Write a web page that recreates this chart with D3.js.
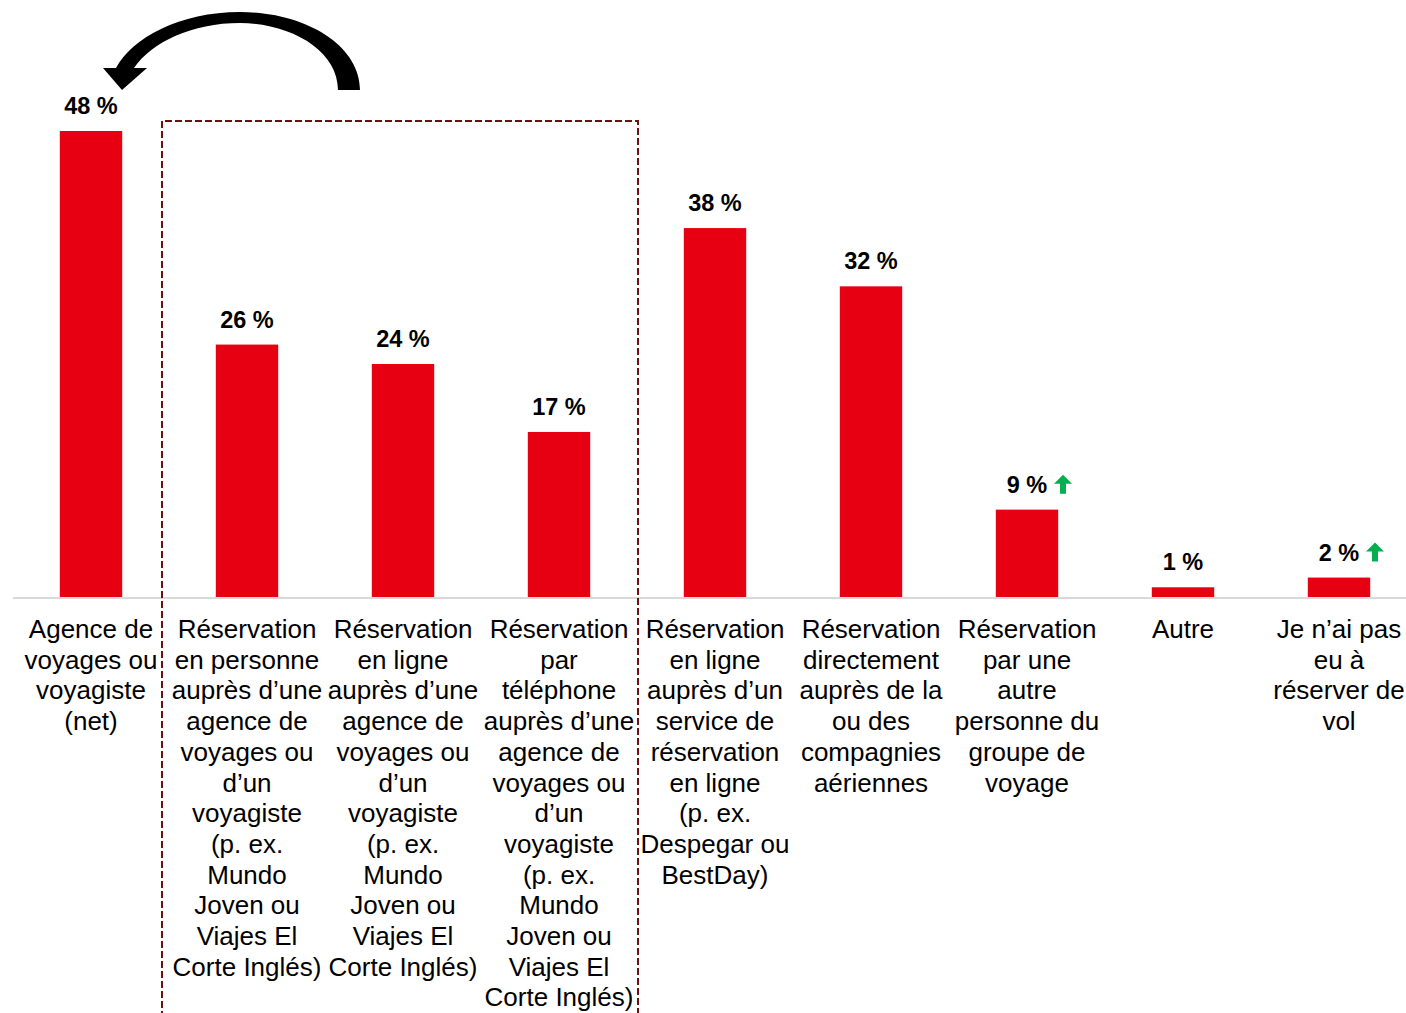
<!DOCTYPE html>
<html>
<head>
<meta charset="utf-8">
<script src="https://cdn.jsdelivr.net/npm/d3@7"></script>
<style>
  body { margin: 0; background: #fff; }
  svg { display: block; font-family: Arial, "Liberation Sans", sans-serif; }
</style>
</head>
<body>
<svg></svg>
<script>
// Données du graphique
const categories = [
    "Agence de\nvoyages ou\nvoyagiste\n(net)",
    "Réservation\nen personne\nauprès d’une\nagence de\nvoyages ou\nd’un\nvoyagiste\n(p. ex.\nMundo\nJoven ou\nViajes El\nCorte Inglés)",
    "Réservation\nen ligne\nauprès d’une\nagence de\nvoyages ou\nd’un\nvoyagiste\n(p. ex.\nMundo\nJoven ou\nViajes El\nCorte Inglés)",
    "Réservation\npar\ntéléphone\nauprès d’une\nagence de\nvoyages ou\nd’un\nvoyagiste\n(p. ex.\nMundo\nJoven ou\nViajes El\nCorte Inglés)",
    "Réservation\nen ligne\nauprès d’un\nservice de\nréservation\nen ligne\n(p. ex.\nDespegar ou\nBestDay)",
    "Réservation\ndirectement\nauprès de la\nou des\ncompagnies\naériennes",
    "Réservation\npar une\nautre\npersonne du\ngroupe de\nvoyage",
    "Autre",
    "Je n’ai pas\neu à\nréserver de\nvol"
];
const values = [48, 26, 24, 17, 38, 32, 9, 1, 2];
const hausse = [false, false, false, false, false, false, true, false, true]; // flèche verte
const groupe = [1, 3]; // catégories encadrées (pointillés)

const width = 1406;
const height = 1013;
const baseline = 597;

const svg = d3.select("svg")
    .attr("width", width)
    .attr("height", height);

const x = d3.scaleBand()
    .domain(d3.range(categories.length))
    .range([13, 1417])
    .paddingInner(0.6)
    .paddingOuter(0.3);

const y = d3.scaleLinear()
    .domain([0, 48])
    .range([baseline, 131]);

// Barres
svg.selectAll(".bar")
    .data(values)
    .enter().append("rect")
    .attr("class", "bar")
    .attr("x", (d, i) => x(i))
    .attr("y", d => y(d))
    .attr("width", x.bandwidth())
    .attr("height", d => baseline - y(d))
    .attr("fill", "#e60012");

// Axe horizontal
svg.append("line")
    .attr("x1", 13).attr("x2", width)
    .attr("y1", baseline + 1).attr("y2", baseline + 1)
    .attr("stroke", "#d9d9d9")
    .attr("stroke-width", 2);

// Étiquettes de valeurs
svg.selectAll(".val")
    .data(values)
    .enter().append("text")
    .attr("class", "val")
    .attr("x", (d, i) => x(i) + x.bandwidth() / 2)
    .attr("y", d => y(d) - 17)
    .attr("text-anchor", "middle")
    .attr("font-weight", "bold")
    .attr("font-size", 23.5)
    .attr("fill", "#000")
    .text(d => d + " %");

// Flèches vertes (hausse significative)
const arrow = "M0,-10 L9,-1 L3,-1 L3,9 L-3,9 L-3,-1 L-9,-1 Z";
svg.selectAll(".up")
    .data(values.map((v, i) => ({ v, i })).filter(d => hausse[d.i]))
    .enter().append("path")
    .attr("class", "up")
    .attr("d", arrow)
    .attr("fill", "#00b050")
    .attr("transform", d => `translate(${x(d.i) + x.bandwidth() / 2 + 36},${y(d.v) - 25})`);

// Libellés des catégories
const lineH = 30.7;
const cat = svg.selectAll(".cat")
    .data(categories)
    .enter().append("text")
    .attr("class", "cat")
    .attr("x", (d, i) => x(i) + x.bandwidth() / 2)
    .attr("y", 638)
    .attr("text-anchor", "middle")
    .attr("font-size", 26)
    .attr("fill", "#000");

cat.each(function (d, i) {
    const el = d3.select(this);
    d.split("\n").forEach((line, k) => {
        el.append("tspan")
            .attr("x", x(i) + x.bandwidth() / 2)
            .attr("dy", k === 0 ? 0 : lineH)
            .text(line);
    });
});

// Cadre en pointillés autour du groupe
const boxL = x(groupe[0]) - x.step() * 0.3 - 7;
const boxR = x(groupe[1]) + x.bandwidth() + x.step() * 0.3 + 1;
svg.append("path")
    .attr("d", `M${boxL},${height + 5} L${boxL},121 L${boxR},121 L${boxR},${height + 5}`)
    .attr("fill", "none")
    .attr("stroke", "#6e1010")
    .attr("stroke-width", 2)
    .attr("stroke-dasharray", "7,3");

// Flèche courbe noire (du groupe vers le total)
svg.append("path")
    .attr("d", "M360,90 C360,45 305,12 240,12 C180,12 132,38 116,68 L103,68 L122,90 L147,68 L134,68 " +
               "C152,42 192,23 240,23 C290,23 338,50 338,90 Z")
    .attr("fill", "#000");
</script>
</body>
</html>
